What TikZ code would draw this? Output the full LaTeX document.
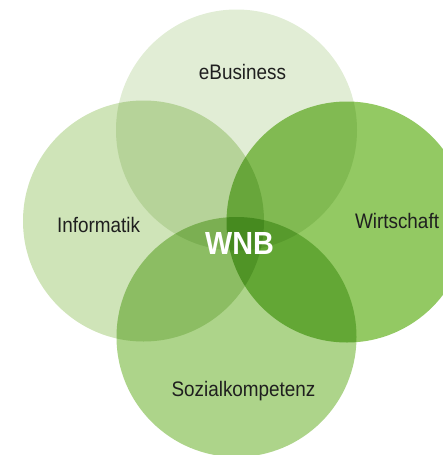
\documentclass[tikz,border=0pt]{standalone}
\usepackage{fontspec}
\setmainfont{Liberation Sans}
\newfontfamily\narrowsans[FakeStretch=0.9]{Liberation Sans}
\usepackage{tikz}
\usetikzlibrary{positioning}

\definecolor{ebizgreen}{RGB}{225,237,213}
\definecolor{infgreen}{RGB}{207,228,184}
\definecolor{wigreen}{RGB}{147,201,99}
\definecolor{sozgreen}{RGB}{173,212,138}

\begin{document}
\begin{tikzpicture}[
  x=1pt, y=-1pt,
  bubble/.style = {draw=none},
  topic/.style = {font=\narrowsans\fontsize{21}{23}\selectfont, text=black!88, inner sep=0pt},
  hub/.style = {font=\narrowsans\fontsize{32}{34}\selectfont\bfseries, text=white, inner sep=0pt}
  ]
	\useasboundingbox (0,0) rectangle (443,455);
	\clip (0,0) rectangle (443,455);

	\coordinate (@eb) at (236.5,130);
	\coordinate (@in) at (143.5,221);
	\coordinate (@wi) at (347,222);
	\coordinate (@so) at (236.5,337);

	\begin{scope}[blend group=multiply]
		\fill[bubble, ebizgreen] (@eb) circle (120.5);
		\fill[bubble, infgreen] (@in) circle (120.5);
		\fill[bubble, wigreen] (@wi) circle (120.5);
		\fill[bubble, sozgreen] (@so) circle (120);
	\end{scope}

	\node[topic] (ebiz) at (242.5,72) {eBusiness};
	\node[topic] (info) at (98.5,225) {Informatik};
	\node[topic] (wirt) at (397,221) {Wirtschaft};
	\node[topic] (sozk) at (243.5,391) {Sozialkompetenz};
	\node[hub] (wnb) at (239.5,243) {WNB};

\end{tikzpicture}
\end{document}
